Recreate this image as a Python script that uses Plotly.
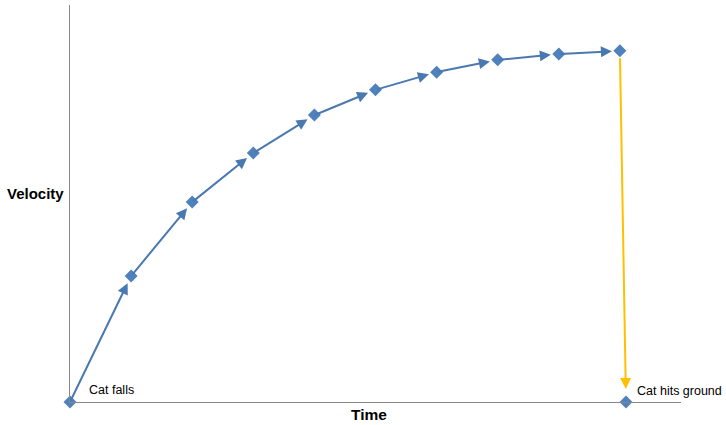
import plotly.graph_objects as go

# Data (arbitrary velocity units)
time = [0, 1, 2, 3, 4, 5, 6, 7, 8, 9]
velocity = [0, 34.9, 55.4, 69.0, 79.5, 86.5, 91.4, 94.8, 96.4, 97.3]
ground_time = [9.1]
ground_velocity = [0]
start_label = "Cat falls"
end_label = "Cat hits ground"

BLUE = "#4F81BD"
ARROW_BLUE = "#4A78B0"
YELLOW = "#FFC000"
AXIS = "#868686"
FONT = "Liberation Sans, Arial, sans-serif"

fig = go.Figure()

fig.add_trace(go.Scatter(
    x=time + ground_time, y=velocity + ground_velocity,
    mode="markers",
    marker=dict(symbol="diamond", size=10, color=BLUE),
    cliponaxis=False, showlegend=False, hoverinfo="skip",
))

annotations = []
for i in range(len(time) - 1):
    annotations.append(dict(
        x=time[i + 1], y=velocity[i + 1], ax=time[i], ay=velocity[i],
        xref="x", yref="y", axref="x", ayref="y",
        showarrow=True, arrowhead=2, arrowsize=1.1, arrowwidth=2,
        arrowcolor=ARROW_BLUE, standoff=8, text="",
    ))
annotations.append(dict(
    x=ground_time[0], y=ground_velocity[0], ax=time[-1], ay=velocity[-1],
    xref="x", yref="y", axref="x", ayref="y",
    showarrow=True, arrowhead=2, arrowsize=1.1, arrowwidth=2,
    arrowcolor=YELLOW, standoff=13, startstandoff=6, text="",
))
annotations.append(dict(
    x=time[0], y=velocity[0], xref="x", yref="y", text=start_label,
    showarrow=False, xanchor="left", yanchor="middle", xshift=17, yshift=12,
    font=dict(family=FONT, size=12.5, color="#000000"),
))
annotations.append(dict(
    x=ground_time[0], y=ground_velocity[0], xref="x", yref="y", text=end_label,
    showarrow=False, xanchor="left", yanchor="middle", xshift=9, yshift=11,
    font=dict(family=FONT, size=12.5, color="#000000"),
))
annotations.append(dict(
    x=0, y=0.524, xref="paper", yref="paper", text="<b>Velocity</b>",
    showarrow=False, xanchor="right", yanchor="middle", xshift=-4,
    font=dict(family=FONT, size=15, color="#000000"),
))
annotations.append(dict(
    x=0.49, y=0, xref="paper", yref="paper", text="<b>Time</b>",
    showarrow=False, xanchor="center", yanchor="top", yshift=-2,
    font=dict(family=FONT, size=15.5, color="#000000"),
))

fig.update_layout(
    width=726, height=425,
    margin=dict(l=70, r=45, t=5, b=23),
    paper_bgcolor="white", plot_bgcolor="white",
    xaxis=dict(range=[0, 10], showgrid=False, zeroline=False, showticklabels=False,
               ticks="", showline=True, linecolor=AXIS, linewidth=1),
    yaxis=dict(range=[0, 110], showgrid=False, zeroline=False, showticklabels=False,
               ticks="", showline=True, linecolor=AXIS, linewidth=1),
    annotations=annotations,
    showlegend=False,
)

fig.write_html(
    "out.html",
    config={"displayModeBar": False},
    post_script="document.body.style.margin='0';document.body.style.overflow='hidden';",
)
